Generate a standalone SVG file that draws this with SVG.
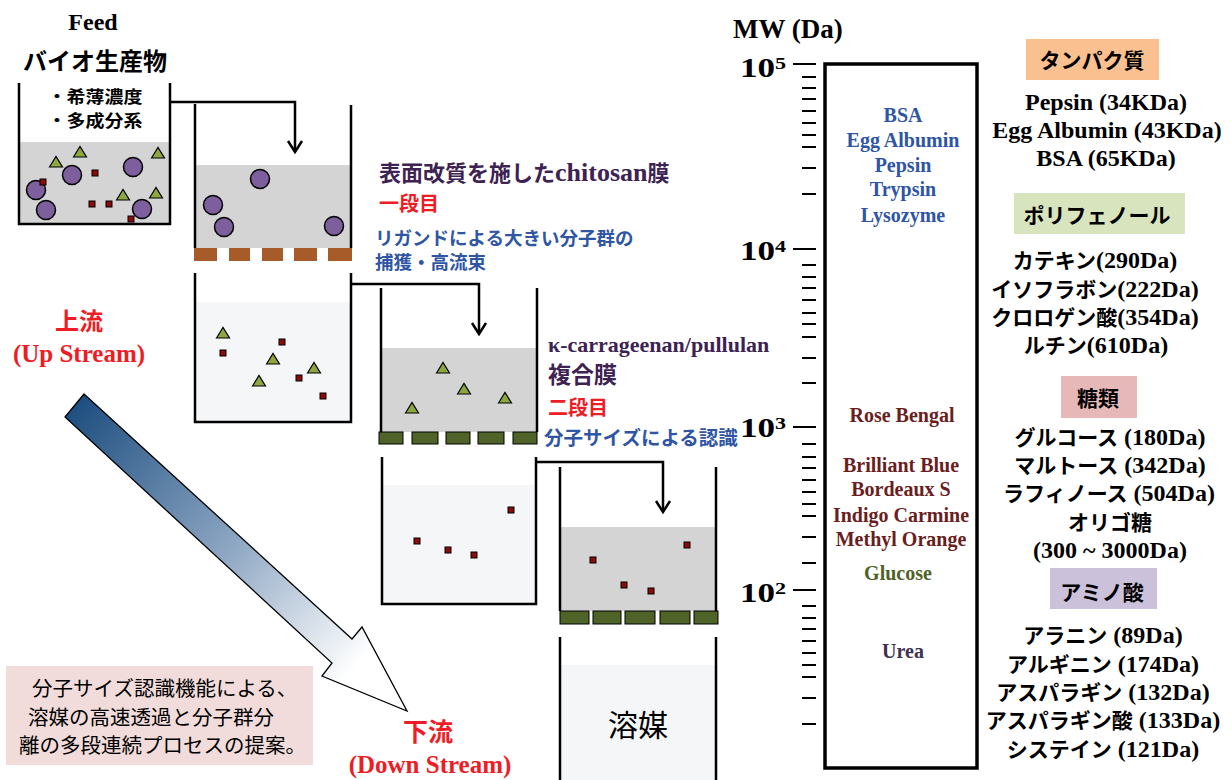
<svg xmlns="http://www.w3.org/2000/svg" width="1231" height="780" viewBox="0 0 1231 780">
<style>
.wall{fill:none;stroke:#000;stroke-width:2.5;stroke-linejoin:miter}
.gray{fill:#D4D4D4}
.light{fill:#F5F6F8}
.conn{fill:none;stroke:#000;stroke-width:2.5}
.brown{fill:#A65B28}
.green{fill:#4F6228;stroke:#000;stroke-width:1}
.tick{stroke:#000;stroke-width:2}
.ser{font-family:"Liberation Serif","Noto Sans CJK JP",serif;font-weight:bold}
.jp{font-family:"Noto Sans CJK JP",sans-serif;font-weight:bold}
.jpn{font-family:"Noto Sans CJK JP",sans-serif;font-weight:normal}
.mid{text-anchor:middle}
.red{fill:#EE1C25}
.blue{fill:#2F55A4}
.dpur{fill:#3D2252}
.brn{fill:#6B1E1E}
.grn{fill:#4F6228}
.pur{fill:#3F3151}
.in{font-size:20px}
.rc{font-size:24px;fill:#000}
.rc .j{font-family:"Noto Sans CJK JP",sans-serif;font-size:21px}
</style>
<defs>
<marker id="ah" viewBox="-13 -9 15 18" markerWidth="15" markerHeight="18" refX="0" refY="0" orient="auto" markerUnits="userSpaceOnUse">
<path d="M-11,-7 L0,0 L-11,7" fill="none" stroke="#000" stroke-width="2.5"/>
</marker>
<circle id="c" r="9.5" fill="#7E5F9E" stroke="#000" stroke-width="1.5"/>
<path id="t" d="M-6.5,5 L0,-5.5 L6.5,5 Z" fill="#8DA73E" stroke="#000" stroke-width="1.2"/>
<rect id="s" x="-3" y="-3" width="6" height="6" fill="#8B0A0A" stroke="#000" stroke-width="1"/>
<linearGradient id="ag" gradientUnits="userSpaceOnUse" x1="75" y1="405" x2="385" y2="685">
<stop offset="0" stop-color="#1E4F80"/>
<stop offset="0.5" stop-color="#8CA5C2"/>
<stop offset="0.92" stop-color="#FFFFFF"/>
</linearGradient>
</defs>

<g id="feed-labels">
<text class="ser mid" x="93" y="30" font-size="24">Feed</text>
<text class="jp mid" x="95" y="70" font-size="24">バイオ生産物</text>
</g>

<g id="beaker1">
<rect class="gray" x="19" y="142" width="151" height="82"/>
<path class="wall" d="M19,83 V224 H170 V83"/>
<text class="jp mid" font-size="16.5" transform="translate(95 0) scale(1.15 1)"><tspan x="0" y="103">・希薄濃度</tspan><tspan x="0" y="127">・多成分系</tspan></text>
<use href="#t" x="56" y="162"/><use href="#t" x="80" y="152"/><use href="#t" x="158" y="153"/><use href="#t" x="123" y="195"/><use href="#t" x="156" y="193"/>
<use href="#c" x="72" y="175"/><use href="#c" x="133" y="167"/><use href="#c" x="36" y="190"/><use href="#c" x="46" y="210"/><use href="#c" x="142" y="209"/>
<use href="#s" x="43" y="182"/><use href="#s" x="95" y="173"/><use href="#s" x="92" y="204"/><use href="#s" x="109" y="204"/><use href="#s" x="131" y="219"/>
</g>

<g id="beaker2-upper">
<rect class="gray" x="195" y="165" width="156" height="83"/>
<path class="wall" d="M195,104 V248 M351,105 V248"/>
<rect class="brown" x="194" y="248" width="23" height="13"/><rect class="brown" x="229" y="248" width="21" height="13"/><rect class="brown" x="262" y="248" width="21" height="13"/><rect class="brown" x="294" y="248" width="23" height="13"/><rect class="brown" x="328" y="248" width="24" height="13"/>
<use href="#c" x="260" y="179"/><use href="#c" x="213" y="205"/><use href="#c" x="224" y="227"/><use href="#c" x="334" y="226"/>
</g>

<g id="beaker2-lower">
<rect class="light" x="195" y="302" width="156" height="120"/>
<path class="wall" d="M195,273 V422 H351 V273"/>
<use href="#t" x="223" y="333"/><use href="#t" x="273" y="359"/><use href="#t" x="259" y="381"/><use href="#t" x="314" y="368"/>
<use href="#s" x="282" y="342"/><use href="#s" x="223" y="353"/><use href="#s" x="299" y="378"/><use href="#s" x="323" y="396"/>
</g>

<g id="beaker3-upper">
<rect class="gray" x="381" y="348" width="156" height="84"/>
<path class="wall" d="M381,288 V432 M537,288 V432"/>
<rect class="green" x="379" y="432" width="24" height="12"/><rect class="green" x="412" y="432" width="26" height="12"/><rect class="green" x="446" y="432" width="24" height="12"/><rect class="green" x="478" y="432" width="26" height="12"/><rect class="green" x="513" y="432" width="24" height="12"/>
<use href="#t" x="443" y="368"/><use href="#t" x="464" y="389"/><use href="#t" x="505" y="398"/><use href="#t" x="412" y="408"/>
</g>

<g id="beaker3-lower">
<rect class="light" x="382" y="485" width="154" height="119"/>
<path class="wall" d="M382,457 V604 H536 V457"/>
<use href="#s" x="511" y="510"/><use href="#s" x="417" y="541"/><use href="#s" x="448" y="550"/><use href="#s" x="474" y="555"/>
</g>

<g id="beaker4-upper">
<rect class="gray" x="560" y="527" width="156" height="84"/>
<path class="wall" d="M560,467 V611 M716,467 V611"/>
<rect class="green" x="560" y="611" width="29" height="13"/><rect class="green" x="593" y="611" width="28" height="13"/><rect class="green" x="625" y="611" width="30" height="13"/><rect class="green" x="660" y="611" width="30" height="13"/><rect class="green" x="694" y="611" width="24" height="13"/>
<use href="#s" x="687" y="545"/><use href="#s" x="593" y="560"/><use href="#s" x="624" y="585"/><use href="#s" x="651" y="591"/>
</g>

<g id="beaker4-lower">
<rect class="light" x="560" y="665" width="156" height="115"/>
<path class="wall" d="M560,637 V782 M716,637 V782"/>
<text class="jpn mid" x="638" y="736" font-size="30" fill="#000">溶媒</text>
</g>

<g id="connectors">
<path class="conn" d="M170,102 H295 V152" marker-end="url(#ah)"/>
<path class="conn" d="M351,284 H479 V334" marker-end="url(#ah)"/>
<path class="conn" d="M536,462 H663 V512" marker-end="url(#ah)"/>
</g>

<g id="stage1-labels">
<text class="jp dpur" x="379" y="181" font-size="22">表面改質を施した<tspan class="ser" font-size="26">chitosan</tspan>膜</text>
<text class="jp red" x="379" y="211" font-size="20">一段目</text>
<text class="jp blue" x="375" y="245" font-size="18.5">リガンドによる大きい分子群の</text>
<text class="jp blue" x="375" y="269" font-size="18.5">捕獲・高流束</text>
</g>

<g id="stage2-labels">
<text class="ser dpur" x="548" y="352" font-size="22">κ-carrageenan/pullulan</text>
<text class="jp dpur" x="548" y="383" font-size="23">複合膜</text>
<text class="jp red" x="548" y="415" font-size="20">二段目</text>
<text class="jp blue" x="544" y="445" font-size="19.5">分子サイズによる認識</text>
</g>

<g id="flow-arrow">
<polygon points="84,394 352,639 362,627 407,711 322,676 332,663 65,417" fill="url(#ag)" stroke="#000" stroke-width="1.3"/>
<text class="jp red mid" x="79" y="330" font-size="24">上流</text>
<text class="ser red mid" x="79" y="362" font-size="25">(Up Stream)</text>
<text class="jp red mid" x="428" y="741" font-size="25">下流</text>
<text class="ser red mid" x="430" y="773" font-size="25">(Down Stream)</text>
</g>

<g id="note">
<rect x="6" y="666" width="307" height="99" fill="#F2DCDB"/>
<text class="jpn" font-size="20.5" fill="#000"><tspan x="32" y="696">分子サイズ認識機能による、</tspan><tspan x="28" y="725">溶媒の高速透過と分子群分</tspan><tspan x="19" y="753">離の多段連続プロセスの提案。</tspan></text>
</g>

<g id="mw-scale">
<text class="ser" x="733" y="38" font-size="27">MW (Da)</text>
<rect x="825" y="64" width="152" height="704" fill="none" stroke="#000" stroke-width="3.5"/>
<g class="tick">
<line x1="793" y1="64" x2="816" y2="64"/><line x1="793" y1="249" x2="816" y2="249"/><line x1="793" y1="427" x2="816" y2="427"/><line x1="793" y1="590" x2="816" y2="590"/>
<path d="M802,77H816M802,88H816M802,99H816M802,111H816M802,123H816M802,135H816M802,147H816M802,168H816M802,194H816
M802,265H816M802,277H816M802,288H816M802,300H816M802,313H816M802,324H816M802,337H816M802,358H816M802,383H816
M802,444H816M802,457H816M802,468H816M802,480H816M802,492H816M802,504H816M802,516H816M802,537H816M802,563H816
M802,606H816M802,618H816M802,629H816M802,641H816M802,653H816M802,665H816M802,677H816M802,698H816M802,724H816"/>
</g>
<g class="ser" font-size="27">
<text transform="translate(740 77) scale(1.3 1)">10<tspan font-size="17" dy="-8">5</tspan></text>
<text transform="translate(740 260) scale(1.3 1)">10<tspan font-size="17" dy="-8">4</tspan></text>
<text transform="translate(740 437) scale(1.3 1)">10<tspan font-size="17" dy="-8">3</tspan></text>
<text transform="translate(740 602) scale(1.3 1)">10<tspan font-size="17" dy="-8">2</tspan></text>
</g>
<g class="ser mid in">
<text class="blue" x="903" y="122">BSA</text>
<text class="blue" x="903" y="147">Egg Albumin</text>
<text class="blue" x="903" y="172">Pepsin</text>
<text class="blue" x="903" y="196">Trypsin</text>
<text class="blue" x="903" y="222">Lysozyme</text>
<text class="brn" x="902" y="422">Rose Bengal</text>
<text class="brn" x="901" y="472">Brilliant Blue</text>
<text class="brn" x="901" y="496">Bordeaux S</text>
<text class="brn" x="901" y="522">Indigo Carmine</text>
<text class="brn" x="901" y="546">Methyl Orange</text>
<text class="grn" x="898" y="580">Glucose</text>
<text class="pur" x="903" y="658">Urea</text>
</g>
</g>

<g id="protein">
<rect x="1026" y="39" width="133" height="41" fill="#FAC090"/>
<text class="jp mid" x="1092" y="68" font-size="21">タンパク質</text>
<g class="ser mid rc">
<text x="1106" y="110">Pepsin (34KDa)</text>
<text x="1107" y="138">Egg Albumin (43KDa)</text>
<text x="1106" y="166">BSA (65KDa)</text>
</g>
</g>

<g id="polyphenol">
<rect x="1014" y="193" width="171" height="41" fill="#D7E4BD"/>
<text class="jp mid" x="1097" y="223" font-size="21">ポリフェノール</text>
<g class="ser mid rc">
<text x="1095" y="268"><tspan class="j">カテキン</tspan>(290Da)</text>
<text x="1095" y="297"><tspan class="j">イソフラボン</tspan>(222Da)</text>
<text x="1095" y="325"><tspan class="j">クロロゲン酸</tspan>(354Da)</text>
<text x="1096" y="353"><tspan class="j">ルチン</tspan>(610Da)</text>
</g>
</g>

<g id="sugar">
<rect x="1061" y="376" width="76" height="42" fill="#E6B9B8"/>
<text class="jp mid" x="1098" y="406" font-size="21">糖類</text>
<g class="ser mid rc">
<text x="1110" y="445"><tspan class="j">グルコース</tspan> (180Da)</text>
<text x="1110" y="473"><tspan class="j">マルトース</tspan> (342Da)</text>
<text x="1109" y="501"><tspan class="j">ラフィノース</tspan> (504Da)</text>
<text x="1110" y="530"><tspan class="j">オリゴ糖</tspan></text>
<text x="1110" y="558">(300 ~ 3000Da)</text>
</g>
</g>

<g id="amino">
<rect x="1050" y="568" width="107" height="41" fill="#CCC1DA"/>
<text class="jp mid" x="1102" y="600" font-size="21">アミノ酸</text>
<g class="ser mid rc">
<text x="1103" y="643"><tspan class="j">アラニン</tspan> (89Da)</text>
<text x="1103" y="672"><tspan class="j">アルギニン</tspan> (174Da)</text>
<text x="1103" y="700"><tspan class="j">アスパラギン</tspan> (132Da)</text>
<text x="1103" y="728"><tspan class="j">アスパラギン酸</tspan> (133Da)</text>
<text x="1103" y="757"><tspan class="j">システイン</tspan> (121Da)</text>
</g>
</g>
</svg>
